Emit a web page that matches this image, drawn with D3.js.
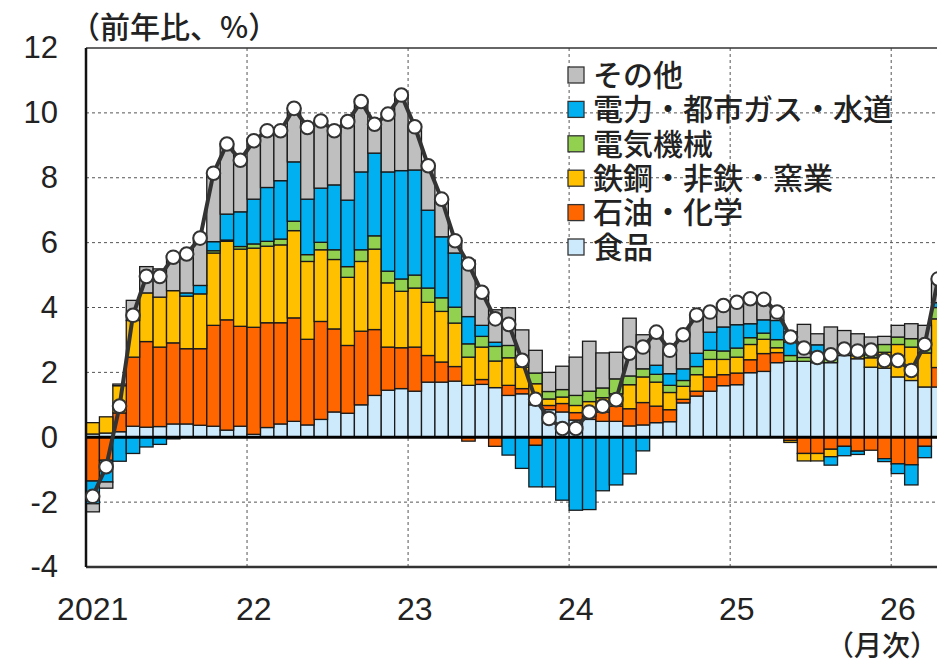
<!DOCTYPE html>
<html lang="ja">
<head>
<meta charset="utf-8">
<title>業種別寄与度</title>
<script src="https://d3js.org/d3.v7.min.js"></script>
<style>
  body { margin: 0; background: #fff; }
  text { fill: #222; }
  .num { font-family: "Liberation Sans", Arial, sans-serif; }
  .jp { font-family: "Noto Sans CJK JP", sans-serif; font-weight: 500; }
  .grid { stroke: #555; stroke-width: 1; stroke-dasharray: 3,3; }
</style>
</head>
<body>
<div id="chart"></div>
<script>
// months Jan 2021 - Apr 2026
var months = ["21/1","21/2","21/3","21/4","21/5","21/6","21/7","21/8","21/9","21/10","21/11","21/12",
  "22/1","22/2","22/3","22/4","22/5","22/6","22/7","22/8","22/9","22/10","22/11","22/12",
  "23/1","23/2","23/3","23/4","23/5","23/6","23/7","23/8","23/9","23/10","23/11","23/12",
  "24/1","24/2","24/3","24/4","24/5","24/6","24/7","24/8","24/9","24/10","24/11","24/12",
  "25/1","25/2","25/3","25/4","25/5","25/6","25/7","25/8","25/9","25/10","25/11","25/12",
  "26/1","26/2","26/3","26/4"];
var yearTicks = ["21/1","22/1","23/1","24/1","25/1","26/1"];
var yearLabels = ["2021","22","23","24","25","26"];

// contributions (% pt)
var food = [0.10,0.13,0.17,0.34,0.31,0.33,0.41,0.41,0.37,0.34,0.22,0.34,
  0.09,0.30,0.41,0.49,0.38,0.55,0.78,0.74,1.00,1.29,1.45,1.50,
  1.42,1.70,1.70,1.73,1.60,1.63,1.53,1.29,1.34,1.00,0.85,0.78,
  0.53,0.55,0.49,0.49,0.35,0.38,0.45,0.48,1.06,1.27,1.42,1.59,
  1.62,1.99,2.03,2.30,2.34,2.34,2.30,2.30,2.52,2.42,2.16,2.13,
  1.86,1.75,1.55,1.55];
var oil = [-1.35,-0.71,0.58,2.13,2.64,2.45,2.50,2.32,2.36,3.11,3.40,3.08,
  3.30,3.23,3.12,3.19,2.64,3.02,2.56,2.09,2.27,2.03,1.33,1.26,
  1.36,0.82,0.62,0.45,-0.12,0.15,-0.28,0.31,0.16,-0.25,0.13,0.26,
  0.23,0.10,0.29,0.47,0.53,0.69,0.51,0.37,0.11,0.15,0.44,0.34,
  0.36,0.40,0.55,0.31,-0.10,-0.50,-0.50,-0.37,-0.28,-0.43,-0.40,-0.66,
  -0.82,-0.85,-0.28,0.60];
var steel = [0.35,0.50,0.84,1.13,1.50,1.54,1.61,1.62,1.69,2.23,2.42,2.38,
  2.44,2.36,2.40,2.69,2.40,2.21,2.14,2.10,2.15,2.48,1.98,1.74,
  1.82,1.64,1.56,1.34,0.87,1.00,0.82,0.85,0.66,0.65,0.20,0.20,
  0.22,0.45,0.44,0.38,0.74,0.79,0.74,0.53,0.40,0.51,0.54,0.47,
  0.49,0.47,0.44,0.15,-0.06,-0.23,-0.23,-0.23,0.00,0.10,0.29,0.49,
  1.00,1.03,1.05,1.50];
var elec = [0,0,0,0,0,0,0,0,0,0.07,0.04,0.08,
  0.13,0.15,0.18,0.29,0.21,0.23,0.30,0.33,0.36,0.41,0.36,0.38,
  0.40,0.44,0.42,0.49,0.41,0.33,0.45,0.38,0.30,0.33,0.23,0.23,
  0.31,0.32,0.30,0.46,0.27,0.25,0.24,0.22,0.18,0.25,0.28,0.26,
  0.28,0.21,0.19,0.25,0.18,0.12,0.10,0.14,0,0,0.10,0.24,
  0.23,0.26,0.25,0.35];
var power = [-0.70,-0.67,-0.74,-0.50,-0.30,-0.22,-0.05,0.10,0.26,0.28,0.80,1.07,
  1.38,1.66,1.80,1.83,1.71,1.67,2.00,2.05,2.40,2.55,3.06,3.34,
  3.24,2.40,1.88,1.67,0.84,0.34,0.13,-0.55,-0.96,-1.28,-1.53,-1.94,
  -2.25,-2.23,-1.65,-1.47,-1.13,-0.42,0.28,0.36,0.36,0.41,0.56,0.74,
  0.72,0.43,0.41,0.59,0.41,0,0.45,-0.26,-0.29,-0.10,0,-0.09,
  -0.30,-0.62,-0.35,0.15];
var other = [-0.25,-0.19,0.05,0.62,0.81,0.87,1.08,1.20,1.46,2.11,2.16,1.59,
  1.80,1.75,1.54,1.65,2.21,2.07,1.67,2.42,2.17,0.89,1.78,2.33,
  1.33,1.37,1.16,0.38,1.74,1.02,1.00,1.16,0.85,0.70,0.59,0.72,
  1.18,1.54,1.08,0.82,1.78,1.05,1.02,0.72,1.05,1.18,0.62,0.66,
  0.69,0.77,0.63,0.26,0.32,1.02,0.34,0.96,0.77,0.67,0.54,0.25,
  0.36,0.46,0.60,0.73];
// overall (line)
var total = [-1.82,-0.91,0.96,3.76,4.96,4.96,5.55,5.65,6.14,8.14,9.04,8.54,
  9.14,9.45,9.45,10.14,9.55,9.75,9.45,9.73,10.35,9.65,9.96,10.55,
  9.57,8.37,7.34,6.06,5.34,4.47,3.65,3.48,2.37,1.17,0.58,0.27,
  0.27,0.78,0.96,1.16,2.59,2.78,3.24,2.68,3.16,3.77,3.86,4.06,
  4.16,4.27,4.25,3.86,3.09,2.75,2.46,2.54,2.72,2.66,2.69,2.37,
  2.37,2.06,2.86,4.88];

var keys = ["food","oil","steel","elec","power","other"];
var names = {food:"食品", oil:"石油・化学", steel:"鉄鋼・非鉄・窯業", elec:"電気機械", power:"電力・都市ガス・水道", other:"その他"};
var colors = {food:"#cdeafc", oil:"#ff6600", steel:"#ffc000", elec:"#92d050", power:"#00b0f0", other:"#bfbfbf"};
var yTicks = [-4,-2,0,2,4,6,8,10,12];

var w = 937, h = 662;
var plotLeft = 86, plotTop = 48, plotBottom = 567;
var step = 13.42;

var rows = months.map(function(m, i) {
  return {m: m, food: food[i], oil: oil[i], steel: steel[i], elec: elec[i], power: power[i], other: other[i], total: total[i]};
});

var svg = d3.select("#chart").append("svg").attr("width", w).attr("height", h);

var x = d3.scaleBand().domain(months).range([plotLeft, plotLeft + step * months.length]).paddingInner(0).paddingOuter(0);
var y = d3.scaleLinear().domain([-4, 12]).range([plotBottom, plotTop]);

// grid
svg.append("g").selectAll("line").data(yTicks.filter(function(d) { return d != 0 && d != -4 && d != 12; }))
  .enter().append("line").attr("class", "grid")
  .attr("x1", plotLeft).attr("x2", w).attr("y1", function(d) { return y(d); }).attr("y2", function(d) { return y(d); });
svg.append("g").selectAll("line").data(yearTicks.slice(1))
  .enter().append("line").attr("class", "grid")
  .attr("x1", function(d) { return x(d); }).attr("x2", function(d) { return x(d); })
  .attr("y1", plotTop).attr("y2", plotBottom);

// stacked bars
var stack = d3.stack().keys(keys).offset(d3.stackOffsetDiverging);
var series = stack(rows);
svg.append("g").selectAll("g").data(series).enter().append("g")
  .attr("fill", function(d) { return colors[d.key]; })
  .selectAll("rect").data(function(d) { return d.filter(function(s) { return Math.abs(s[1] - s[0]) > 0.001; }); })
  .enter().append("rect")
  .attr("x", function(d) { return x(d.data.m); })
  .attr("width", x.bandwidth())
  .attr("y", function(d) { return y(Math.max(d[0], d[1])); })
  .attr("height", function(d) { return Math.abs(y(d[0]) - y(d[1])); })
  .attr("stroke", "#1a1a1a").attr("stroke-width", 1.3);

// frame
svg.append("line").attr("x1", plotLeft).attr("x2", w).attr("y1", plotTop).attr("y2", plotTop).attr("stroke", "#333").attr("stroke-width", 1.5);
svg.append("line").attr("x1", plotLeft).attr("x2", w).attr("y1", y(0)).attr("y2", y(0)).attr("stroke", "#000").attr("stroke-width", 3);
svg.append("line").attr("x1", plotLeft).attr("x2", w).attr("y1", plotBottom).attr("y2", plotBottom).attr("stroke", "#333").attr("stroke-width", 2.5);
svg.append("line").attr("x1", plotLeft).attr("x2", plotLeft).attr("y1", plotTop).attr("y2", plotBottom).attr("stroke", "#111").attr("stroke-width", 2.5);

// y axis labels (plain hyphen minus like the original)
var yAxis = d3.axisLeft(y).tickValues(yTicks).tickSize(0).tickPadding(28)
  .tickFormat(function(d) { return String(d); });
svg.append("g").attr("transform", "translate(" + plotLeft + ",0)").call(yAxis)
  .call(function(g) { g.select(".domain").remove(); })
  .selectAll("text").attr("class", "num").style("font-size", "31px").style("fill", "#222");

// x labels
var xAxis = d3.axisBottom(x).tickValues(yearTicks).tickSize(0).tickPadding(30)
  .tickFormat(function(d, i) { return yearLabels[i]; });
svg.append("g").attr("transform", "translate(0," + plotBottom + ")").call(xAxis)
  .call(function(g) { g.select(".domain").remove(); })
  .selectAll("text").attr("class", "num").style("font-size", "32px").style("fill", "#222");

// overall line
var line = d3.line().x(function(d) { return x(d.m) + x.bandwidth() / 2; }).y(function(d) { return y(d.total); });
svg.append("path").datum(rows).attr("d", line).attr("fill", "none").attr("stroke", "#333").attr("stroke-width", 4);
svg.append("g").selectAll("circle").data(rows).enter().append("circle")
  .attr("cx", function(d) { return x(d.m) + x.bandwidth() / 2; })
  .attr("cy", function(d) { return y(d.total); })
  .attr("r", 6.8).attr("fill", "#fff").attr("stroke", "#333").attr("stroke-width", 2);

// legend
var legendKeys = keys.slice().reverse();
var legend = svg.append("g").selectAll("g").data(legendKeys).enter().append("g")
  .attr("transform", function(d, i) { return "translate(568," + (75 + i * 34.4) + ")"; });
legend.append("rect").attr("x", 0).attr("y", -8).attr("width", 16).attr("height", 16)
  .attr("fill", function(d) { return colors[d]; }).attr("stroke", "#333").attr("stroke-width", 1.3);
legend.append("text").attr("class", "jp").attr("x", 25).attr("y", 0).attr("dy", "0.36em")
  .style("font-size", "30px").text(function(d) { return names[d]; });

// titles
svg.append("text").attr("class", "jp").attr("x", 70).attr("y", 38).style("font-size", "30px").text("（前年比、%）");
svg.append("text").attr("class", "jp").attr("x", 938).attr("y", 656).attr("text-anchor", "end").style("font-size", "28px").text("（月次）");
</script>
</body>
</html>
